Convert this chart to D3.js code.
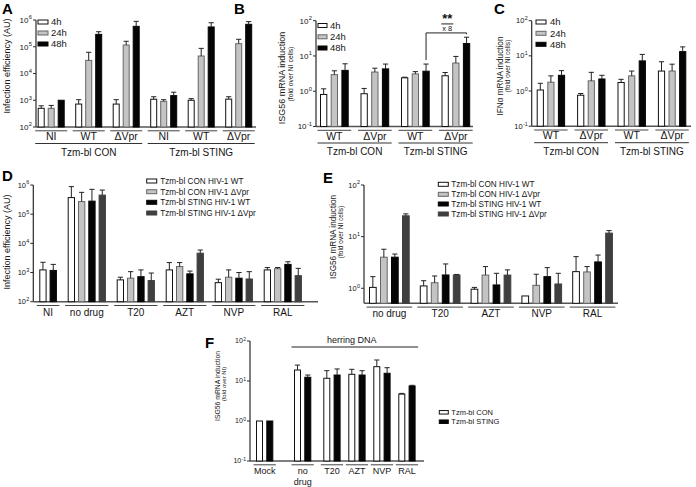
<!DOCTYPE html>
<html><head><meta charset="utf-8">
<script src="https://cdn.jsdelivr.net/npm/d3@7"></script>
<style>body{margin:0;background:#fff}svg{font-family:"Liberation Sans",Arial,Helvetica,sans-serif}</style>
</head><body><svg id="c" width="696" height="487"></svg>
<script>
// ================= DATA =================
// Panel A – infection efficiency (AU)
const aGroups = ["NI","WT","ΔVpr","NI","WT","ΔVpr"];
const aCells = ["Tzm-bl CON","Tzm-bl STING"];
const aSeries = ["4h","24h","48h"];
const a4h      = [500, 720, 720, 1090, 1000, 1100];
const a4hErr   = [620, 1050, 1050, 1350, 1150, 1350];
const a24h     = [500, 31000, 116000, 910, 45000, 130000];
const a24hErr  = [640, 62000, 160000, 1050, 87000, 190000];
const a48h     = [1000, 290000, 580000, 1490, 550000, 690000];
const a48hErr  = [1000, 365000, 890000, 2000, 790000, 870000];

// Panel B – ISG56 mRNA induction
const bGroups = ["WT","ΔVpr","WT","ΔVpr"];
const bCells = ["Tzm-bl CON","Tzm-bl STING"];
const b4h     = [0.81, 0.85, 2.4, 2.75];
const b4hErr  = [1.17, 1.2, 2.5, 3.4];
const b24h    = [2.95, 3.5, 3.1, 6.3];
const b24hErr = [3.8, 4.5, 3.6, 9.7];
const b48h    = [3.9, 4.3, 3.7, 22.5];
const b48hErr = [6.0, 5.9, 5.9, 34];

// Panel C – IFNα mRNA induction
const cGroups = ["WT","ΔVpr","WT","ΔVpr"];
const cCells = ["Tzm-bl CON","Tzm-bl STING"];
const c4h     = [1.07, 0.76, 1.75, 3.7];
const c4hErr  = [1.66, 0.85, 2.15, 6.8];
const c24h    = [1.78, 1.95, 2.7, 3.7];
const c24hErr = [2.7, 3.4, 3.7, 5.8];
const c48h    = [2.8, 2.2, 7.2, 13.2];
const c48hErr = [3.8, 2.8, 11, 18];

// Panel D – infection efficiency with drugs
const dGroups = ["NI","no drug","T20","AZT","NVP","RAL"];
const dSeries = ["Tzm-bl CON HIV-1 WT","Tzm-bl CON HIV-1 ΔVpr","Tzm-bl STING HIV-1 WT","Tzm-bl STING HIV-1 ΔVpr"];
const dConWT        = [1230, 370000, 560, 1230, 450, 1230];
const dConWTErr     = [2240, 880000, 690, 2190, 590, 1480];
const dConDVpr      = [null, 270000, 640, 1600, 690, 1350];
const dConDVprErr   = [null, 560000, 1070, 2190, 1230, 1480];
const dStingWT      = [1180, 280000, 720, 900, 640, 1900];
const dStingWTErr   = [1900, 710000, 1230, 1120, 1000, 2340];
const dStingDVpr    = [null, 450000, 530, 4600, 600, 780];
const dStingDVprErr = [null, 670000, 960, 5900, 1070, 1390];

// Panel E – ISG56 mRNA induction with drugs
const eGroups = ["no drug","T20","AZT","NVP","RAL"];
const eConWT        = [1.04, 1.11, 0.96, 0.71, 2.1];
const eConWTErr     = [1.68, 1.4, 1.04, null, 4.1];
const eConDVpr      = [4.0, 1.28, 1.8, 1.14, 2.07];
const eConDVprErr   = [5.7, 1.73, 2.63, 1.87, 2.63];
const eStingWT      = [4.0, 1.81, 1.16, 1.68, 3.24];
const eStingWTErr   = [4.6, 2.96, 1.95, 2.51, 4.4];
const eStingDVpr    = [25.3, 1.8, 1.8, 1.21, 11.7];
const eStingDVprErr = [27.6, 1.85, 2.27, 1.95, 13.1];

// Panel F – herring DNA
const fGroups = ["Mock","no drug","T20","AZT","NVP","RAL"];
const fSeries = ["Tzm-bl CON","Tzm-bl STING"];
const fCon      = [1.0, 18.8, 11.7, 14.7, 22.8, 4.7];
const fConErr   = [null, 25, 18.1, 19.6, 33.5, 4.9];
const fSting    = [1.0, 12.4, 14.1, 14.1, 15.6, 7.5];
const fStingErr = [null, 14.1, 20, 18.1, 21.5, 7.8];

// ================= STYLES =================
const WHITE = {fill:"#ffffff", stroke:"#111"};
const GRAY  = {fill:"#c4c4c4", stroke:"#666"};
const BLACK = {fill:"#050505", stroke:"#050505"};
const DARK  = {fill:"#3f3f3f", stroke:"#3f3f3f"};
const AX = "#2a2a2a", TXT = "#151515";

const svg = d3.select("#c");

function sup(sel, exp, size) {
  sel.append("tspan").text("10");
  sel.append("tspan").attr("font-size", size*0.72).attr("dy", -size*0.42).attr("dx", 0.3).text(exp);
}

function drawPanel(p) {
  const g = svg.append("g");
  const y = d3.scaleLog().domain(p.domain).range([p.yBot, p.yTop]);
  const x = d3.scaleLinear().domain([0, 1]).range([p.x0, p.x0 + p.pitch]);
  let pos = 0;
  const groups = p.groups.map((gr, i) => {
    const bars = gr.bars.filter(b => b.v != null);
    if (i > 0) pos += (p.gap + (p.extra ? p.extra[i] : 0)) / p.pitch;
    const start = pos; pos += bars.length;
    return {label: gr.label, bars, start, end: pos};
  });
  // y axis
  g.append("line").attr("x1", p.axisX).attr("x2", p.axisX).attr("y1", p.yTop).attr("y2", p.yBot)
    .attr("stroke", AX).attr("stroke-width", 1.2);
  p.exps.forEach(e => {
    const yy = y(Math.pow(10, e));
    g.append("line").attr("x1", p.axisX - 3).attr("x2", p.axisX).attr("y1", yy).attr("y2", yy)
      .attr("stroke", AX).attr("stroke-width", 1);
    const t = g.append("text").attr("x", p.axisX - 4).attr("y", yy + p.tickSize*0.35)
      .attr("text-anchor", "end").attr("font-size", p.tickSize).attr("fill", TXT);
    sup(t, e, p.tickSize);
  });
  // baseline
  g.append("line").attr("x1", p.axisX).attr("x2", p.axisEnd).attr("y1", p.yBot).attr("y2", p.yBot)
    .attr("stroke", "#555").attr("stroke-width", 1.4);
  // bars
  groups.forEach(gr => {
    gr.bars.forEach((b, j) => {
      const bx = x(gr.start + j);
      const top = y(b.v);
      g.append("rect").attr("x", bx + 0.5).attr("y", top).attr("width", p.barW - 1)
        .attr("height", Math.max(0, p.yBot - top))
        .attr("fill", b.s.fill).attr("stroke", b.s.stroke).attr("stroke-width", 1);
      if (b.e != null && b.e > b.v) {
        const cx = bx + p.barW/2, ey = y(b.e);
        g.append("line").attr("x1", cx).attr("x2", cx).attr("y1", top).attr("y2", ey)
          .attr("stroke", "#222").attr("stroke-width", 1);
        g.append("line").attr("x1", cx - 2.6).attr("x2", cx + 2.6).attr("y1", ey).attr("y2", ey)
          .attr("stroke", "#222").attr("stroke-width", 1);
      }
    });
    const gx0 = x(gr.start) - 2.5, gx1 = x(gr.end - 1) + p.barW + 2.5;
    g.append("line").attr("x1", gx0).attr("x2", gx1).attr("y1", p.yBot + 3.8).attr("y2", p.yBot + 3.8)
      .attr("stroke", "#444").attr("stroke-width", 1);
    const cxm = (gx0 + gx1)/2;
    const words = p.wrap ? gr.label.split(" ") : [gr.label];
    words.forEach((w, k) => {
      g.append("text").attr("x", cxm).attr("y", p.yBot + p.labDy + k*10.5).attr("text-anchor", "middle")
        .attr("font-size", p.labSize).attr("fill", TXT).text(w);
    });
    gr.cx0 = gx0; gr.cx1 = gx1;
  });
  // cell-line group lines
  (p.cells || []).forEach(c => {
    const x0 = groups[c.from].cx0, x1 = groups[c.to].cx1;
    g.append("line").attr("x1", x0).attr("x2", x1).attr("y1", p.yBot + 16.5).attr("y2", p.yBot + 16.5)
      .attr("stroke", "#333").attr("stroke-width", 1);
    g.append("text").attr("x", (x0 + x1)/2).attr("y", p.yBot + 28.5).attr("text-anchor", "middle")
      .attr("font-size", 10).attr("fill", TXT).text(c.label);
  });
  // y label
  p.ylab.forEach(l => {
    g.append("text").attr("transform", `translate(${l.x},${l.y}) rotate(-90)`).attr("text-anchor", "middle")
      .attr("font-size", l.size).attr("fill", TXT).text(l.text);
  });
  // letter
  svg.append("text").attr("x", p.letter.x).attr("y", p.letter.y).attr("font-size", 15)
    .attr("font-weight", "bold").attr("fill", "#000").text(p.letter.t);
  return {x, y, groups, g};
}

function legend(x0, ys, items, opts) {
  items.forEach((it, i) => {
    svg.append("rect").attr("x", x0).attr("y", ys[i] - opts.h/2).attr("width", opts.w).attr("height", opts.h)
      .attr("fill", it.s.fill).attr("stroke", it.s.stroke).attr("stroke-width", 1);
    svg.append("text").attr("x", x0 + opts.w + opts.gap).attr("y", ys[i] + opts.size*0.36)
      .attr("font-size", opts.size).attr("fill", TXT).text(it.label);
  });
}

function build(groupsArr, seriesList) {
  return groupsArr.map((lab, i) => ({label: lab, bars: seriesList.map(s => ({v: s.v[i], e: s.e[i], s: s.s}))}));
}

// ---------- A ----------
drawPanel({
  letter:{t:"A", x:2, y:14}, axisX:36, yTop:20, yBot:127, domain:[1e2, 1e6], exps:[2,3,4,5,6],
  x0:37.7, pitch:10, barW:7, gap:7.5, axisEnd:256, tickSize:8, labSize:10.5, labDy:13,
  groups: build(aGroups, [{v:a4h,e:a4hErr,s:WHITE},{v:a24h,e:a24hErr,s:GRAY},{v:a48h,e:a48hErr,s:BLACK}]),
  cells:[{label:aCells[0], from:0, to:2},{label:aCells[1], from:3, to:5}],
  ylab:[{text:"Infection efficiency (AU)", x:10, y:66, size:9}]
});
legend(38, [22, 33, 44], aSeries.map((l,i)=>({label:l, s:[WHITE,GRAY,BLACK][i]})), {w:10, h:4, gap:3, size:9.5});

// ---------- B ----------
const pB = drawPanel({
  letter:{t:"B", x:234, y:14}, axisX:316, yTop:20.7, yBot:126.5, domain:[1e-1, 1e2], exps:[-1,0,1,2],
  x0:320, pitch:10.7, barW:7.3, gap:8.4, axisEnd:473, tickSize:8, labSize:10.5, labDy:13,
  groups: build(bGroups, [{v:b4h,e:b4hErr,s:WHITE},{v:b24h,e:b24hErr,s:GRAY},{v:b48h,e:b48hErr,s:BLACK}]),
  cells:[{label:bCells[0], from:0, to:1},{label:bCells[1], from:2, to:3}],
  ylab:[{text:"ISG56 mRNA induction", x:285, y:78, size:9},{text:"(fold over NI cells)", x:292.5, y:74, size:6.8}]
});
legend(318, [25.5, 36.8, 48], aSeries.map((l,i)=>({label:l, s:[WHITE,GRAY,BLACK][i]})), {w:9, h:4, gap:3, size:9.5});
{
  // significance bracket between STING WT 48h and STING ΔVpr 48h
  const gW = pB.groups[2], gD = pB.groups[3];
  const xl = pB.x(gW.start + 2) + 7.3/2, xr = pB.x(gD.start + 2) + 7.3/2;
  const yb = pB.y(45);
  const path = d3.path();
  path.moveTo(xl, pB.y(b48hErr[2]) - 4); path.lineTo(xl, yb); path.lineTo(xr, yb); path.lineTo(xr, pB.y(b48hErr[3]) - 3);
  svg.append("path").attr("d", path.toString()).attr("fill", "none").attr("stroke", "#222").attr("stroke-width", 1);
  const mx = (xl + xr)/2 + 1;
  svg.append("text").attr("x", mx).attr("y", yb - 10).attr("text-anchor", "middle").attr("font-size", 13)
    .attr("font-weight", "bold").attr("fill", "#111").text("**");
  svg.append("line").attr("x1", mx - 6).attr("x2", mx + 6).attr("y1", yb - 9).attr("y2", yb - 9).attr("stroke", "#222");
  svg.append("text").attr("x", mx).attr("y", yb - 1.5).attr("text-anchor", "middle").attr("font-size", 7.5)
    .attr("fill", "#111").text("x 8");
}

// ---------- C ----------
drawPanel({
  letter:{t:"C", x:494, y:14}, axisX:531.7, yTop:20.7, yBot:126.2, domain:[1e-1, 1e2], exps:[-1,0,1,2],
  x0:536.7, pitch:10.6, barW:7.2, gap:8.6, axisEnd:691, tickSize:7.5, labSize:10.5, labDy:13,
  groups: build(cGroups, [{v:c4h,e:c4hErr,s:WHITE},{v:c24h,e:c24hErr,s:GRAY},{v:c48h,e:c48hErr,s:BLACK}]),
  cells:[{label:cCells[0], from:0, to:1},{label:cCells[1], from:2, to:3}],
  ylab:[{text:"IFNα mRNA induction", x:503, y:76, size:8.2},{text:"(fold over NI cells)", x:509.5, y:66, size:6.5}]
});
legend(536, [22, 33.3, 44.3], aSeries.map((l,i)=>({label:l, s:[WHITE,GRAY,BLACK][i]})), {w:10, h:4, gap:4, size:9.5});

// ---------- D ----------
drawPanel({
  letter:{t:"D", x:2, y:181}, axisX:33.3, yTop:185, yBot:301.7, domain:[1e2, 1e6], exps:[2,3,4,5,6],
  x0:39.3, pitch:10.3, barW:7.3, gap:7.8, axisEnd:318, tickSize:7.5, labSize:10, labDy:14,
  groups: build(dGroups, [{v:dConWT,e:dConWTErr,s:WHITE},{v:dConDVpr,e:dConDVprErr,s:GRAY},
                          {v:dStingWT,e:dStingWTErr,s:BLACK},{v:dStingDVpr,e:dStingDVprErr,s:DARK}]),
  ylab:[{text:"Infection efficiency (AU)", x:10, y:242, size:9}]
});
legend(146.7, [181, 191.7, 202.3, 213], dSeries.map((l,i)=>({label:l, s:[WHITE,GRAY,BLACK,DARK][i]})), {w:10, h:4, gap:3.5, size:8.2});

// ---------- E ----------
drawPanel({
  letter:{t:"E", x:323, y:183}, axisX:364, yTop:185, yBot:303.3, domain:[Math.pow(10,-0.291), 1e2], exps:[0,1,2],
  x0:369, pitch:11, barW:7.7, gap:6.8, axisEnd:618, tickSize:7.5, labSize:10, labDy:14,
  groups: build(eGroups, [{v:eConWT,e:eConWTErr,s:WHITE},{v:eConDVpr,e:eConDVprErr,s:GRAY},
                          {v:eStingWT,e:eStingWTErr,s:BLACK},{v:eStingDVpr,e:eStingDVprErr,s:DARK}]),
  ylab:[{text:"ISG56 mRNA induction", x:336, y:237, size:8.2},{text:"(fold over NI cells)", x:343, y:232, size:6.5}]
});
legend(438.3, [184.3, 194.3, 204, 214], dSeries.map((l,i)=>({label:l, s:[WHITE,GRAY,BLACK,DARK][i]})), {w:10, h:4, gap:3, size:8.2});

// ---------- F ----------
const pF = drawPanel({
  letter:{t:"F", x:205, y:348}, axisX:250, yTop:341, yBot:461, domain:[1e-1, 1e2], exps:[-1,0,1,2],
  x0:256, pitch:10.3, barW:7, gap:4.4, extra:[0, 13, 4.3, 0, 0, 0], axisEnd:424, tickSize:7, labSize:9, labDy:13, wrap:true,
  groups: build(fGroups, [{v:fCon,e:fConErr,s:WHITE},{v:fSting,e:fStingErr,s:BLACK}]),
  ylab:[{text:"ISG56 mRNA induction", x:220, y:386, size:6.8},{text:"(fold over NI)", x:226, y:384, size:6}]
});
legend(439.3, [412.3, 421.7], fSeries.map((l,i)=>({label:l, s:[WHITE,BLACK][i]})), {w:9, h:3.5, gap:3, size:7.5});
{
  const x0 = pF.groups[1].cx0, x1 = pF.groups[5].cx1;
  svg.append("line").attr("x1", x0).attr("x2", x1).attr("y1", 347).attr("y2", 347).attr("stroke", "#222").attr("stroke-width", 1);
  svg.append("text").attr("x", (x0 + x1)/2 - 3).attr("y", 343).attr("text-anchor", "middle").attr("font-size", 9)
    .attr("fill", TXT).text("herring DNA");
}
</script></body></html>
